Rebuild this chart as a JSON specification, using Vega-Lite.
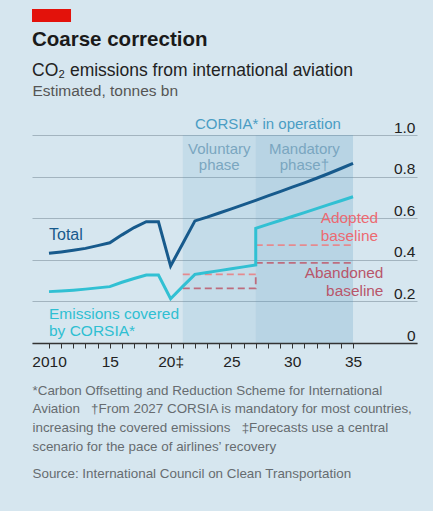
{
  "$schema": "https://vega.github.io/schema/vega-lite/v6.json",
  "width": 385,
  "height": 208,
  "autosize": {"type": "none"},
  "padding": {"left": 32, "right": 16, "top": 135, "bottom": 168},
  "background": "#d6e6ef",
  "config": {"view": {"stroke": null}, "font": "Liberation Sans"},
  "title": {
    "text": "Coarse correction",
    "subtitle": "CO₂ emissions from international aviation",
    "anchor": "start",
    "frame": "group",
    "font": "Liberation Sans",
    "fontSize": 20.5,
    "fontWeight": "bold",
    "color": "#1a1a1a",
    "subtitleFont": "Liberation Sans",
    "subtitleFontSize": 17.5,
    "subtitleColor": "#222222",
    "subtitlePadding": 12,
    "offset": -71
  },
  "datasets": {
    "series": [
      {"series": "Total", "year": 2010, "value": 0.431, "ord": 1},
      {"series": "Total", "year": 2011, "value": 0.438, "ord": 2},
      {"series": "Total", "year": 2012, "value": 0.446, "ord": 3},
      {"series": "Total", "year": 2013, "value": 0.455, "ord": 4},
      {"series": "Total", "year": 2014, "value": 0.468, "ord": 5},
      {"series": "Total", "year": 2015, "value": 0.482, "ord": 6},
      {"series": "Total", "year": 2016, "value": 0.52, "ord": 7},
      {"series": "Total", "year": 2017, "value": 0.555, "ord": 8},
      {"series": "Total", "year": 2018, "value": 0.583, "ord": 9},
      {"series": "Total", "year": 2019, "value": 0.583, "ord": 10},
      {"series": "Total", "year": 2020, "value": 0.37, "ord": 11},
      {"series": "Total", "year": 2021, "value": 0.478, "ord": 12},
      {"series": "Total", "year": 2022, "value": 0.587, "ord": 13},
      {"series": "Total", "year": 2023, "value": 0.605, "ord": 14},
      {"series": "Total", "year": 2024, "value": 0.625, "ord": 15},
      {"series": "Total", "year": 2025, "value": 0.645, "ord": 16},
      {"series": "Total", "year": 2026, "value": 0.665, "ord": 17},
      {"series": "Total", "year": 2027, "value": 0.686, "ord": 18},
      {"series": "Total", "year": 2028, "value": 0.707, "ord": 19},
      {"series": "Total", "year": 2029, "value": 0.728, "ord": 20},
      {"series": "Total", "year": 2030, "value": 0.749, "ord": 21},
      {"series": "Total", "year": 2031, "value": 0.77, "ord": 22},
      {"series": "Total", "year": 2032, "value": 0.792, "ord": 23},
      {"series": "Total", "year": 2033, "value": 0.815, "ord": 24},
      {"series": "Total", "year": 2034, "value": 0.839, "ord": 25},
      {"series": "Total", "year": 2035, "value": 0.864, "ord": 26},
      {"series": "Covered", "year": 2010, "value": 0.247, "ord": 1},
      {"series": "Covered", "year": 2011, "value": 0.25, "ord": 2},
      {"series": "Covered", "year": 2012, "value": 0.254, "ord": 3},
      {"series": "Covered", "year": 2013, "value": 0.259, "ord": 4},
      {"series": "Covered", "year": 2014, "value": 0.265, "ord": 5},
      {"series": "Covered", "year": 2015, "value": 0.271, "ord": 6},
      {"series": "Covered", "year": 2016, "value": 0.292, "ord": 7},
      {"series": "Covered", "year": 2017, "value": 0.31, "ord": 8},
      {"series": "Covered", "year": 2018, "value": 0.327, "ord": 9},
      {"series": "Covered", "year": 2019, "value": 0.327, "ord": 10},
      {"series": "Covered", "year": 2020, "value": 0.213, "ord": 11},
      {"series": "Covered", "year": 2021, "value": 0.272, "ord": 12},
      {"series": "Covered", "year": 2022, "value": 0.33, "ord": 13},
      {"series": "Covered", "year": 2023, "value": 0.339, "ord": 14},
      {"series": "Covered", "year": 2024, "value": 0.348, "ord": 15},
      {"series": "Covered", "year": 2025, "value": 0.357, "ord": 16},
      {"series": "Covered", "year": 2026, "value": 0.366, "ord": 17},
      {"series": "Covered", "year": 2027, "value": 0.375, "ord": 18},
      {"series": "Covered", "year": 2027, "value": 0.551, "ord": 19},
      {"series": "Covered", "year": 2028, "value": 0.57, "ord": 20},
      {"series": "Covered", "year": 2029, "value": 0.589, "ord": 21},
      {"series": "Covered", "year": 2030, "value": 0.608, "ord": 22},
      {"series": "Covered", "year": 2031, "value": 0.627, "ord": 23},
      {"series": "Covered", "year": 2032, "value": 0.646, "ord": 24},
      {"series": "Covered", "year": 2033, "value": 0.665, "ord": 25},
      {"series": "Covered", "year": 2034, "value": 0.684, "ord": 26},
      {"series": "Covered", "year": 2035, "value": 0.703, "ord": 27}
    ],
    "baselines": [
      {"series": "Adopted", "seg": "a1", "year": 2021, "value": 0.33, "ord": 1},
      {"series": "Adopted", "seg": "a1", "year": 2027, "value": 0.33, "ord": 2},
      {"series": "Adopted", "seg": "a2", "year": 2027, "value": 0.471, "ord": 3},
      {"series": "Adopted", "seg": "a2", "year": 2035, "value": 0.471, "ord": 4},
      {"series": "Abandoned", "seg": "b1", "year": 2021, "value": 0.263, "ord": 1},
      {"series": "Abandoned", "seg": "b1", "year": 2027, "value": 0.263, "ord": 2},
      {"series": "Abandoned", "seg": "b1", "year": 2027, "value": 0.33, "ord": 3},
      {"series": "Abandoned", "seg": "b2", "year": 2027, "value": 0.385, "ord": 4},
      {"series": "Abandoned", "seg": "b2", "year": 2035, "value": 0.385, "ord": 5}
    ],
    "phases": [
      {"phase": "Voluntary", "start": 2021, "end": 2027},
      {"phase": "Mandatory", "start": 2027, "end": 2035}
    ],
    "labels": [
      {"group": "op", "text": "CORSIA* in operation", "year": 2028, "value": 1.029},
      {"group": "phase", "text": "Voluntary", "year": 2024, "value": 0.909},
      {"group": "phase", "text": "phase", "year": 2024, "value": 0.832},
      {"group": "phase", "text": "Mandatory", "year": 2031, "value": 0.909},
      {"group": "phase", "text": "phase†", "year": 2031, "value": 0.832},
      {"group": "total", "text": "Total", "year": 2010, "value": 0.495},
      {"group": "covered", "text": "Emissions covered", "year": 2010, "value": 0.115},
      {"group": "covered", "text": "by CORSIA*", "year": 2010, "value": 0.034},
      {"group": "adopted", "text": "Adopted", "year": 2037.06, "value": 0.577},
      {"group": "adopted", "text": "baseline", "year": 2037.06, "value": 0.49},
      {"group": "abandoned", "text": "Abandoned", "year": 2037.5, "value": 0.3125},
      {"group": "abandoned", "text": "baseline", "year": 2037.5, "value": 0.2236}
    ]
  },
  "resolve": {"axis": {"x": "independent", "y": "independent"}},
  "layer": [
    {
      "data": {"name": "phases"},
      "mark": {"type": "rect", "color": "#4f97c0"},
      "encoding": {
        "x": {"field": "start", "type": "quantitative", "scale": {"domain": [2008.602, 2040.26], "nice": false, "zero": false}, "axis": null},
        "x2": {"field": "end"},
        "y": {"datum": 0, "type": "quantitative", "scale": {"domain": [0, 1], "nice": false}, "axis": null},
        "y2": {"datum": 1},
        "opacity": {"field": "phase", "type": "nominal", "scale": {"domain": ["Voluntary", "Mandatory"], "range": [0.13, 0.22]}, "legend": null}
      }
    },
    {
      "data": {"values": [{"tag": "logo"}]},
      "mark": {"type": "rect", "color": "#e3120b"},
      "encoding": {
        "x": {"datum": 2008.602, "type": "quantitative", "axis": null},
        "x2": {"datum": 2011.81},
        "y": {"datum": 1.606, "type": "quantitative", "axis": null},
        "y2": {"datum": 1.543}
      }
    },
    {
      "data": {"name": "baselines"},
      "transform": [{"filter": "datum.series == 'Adopted'"}],
      "mark": {"type": "line", "color": "#e58a8f", "strokeWidth": 1.8, "strokeDash": [7, 4]},
      "encoding": {
        "x": {"field": "year", "type": "quantitative", "axis": null},
        "y": {"field": "value", "type": "quantitative", "axis": null},
        "detail": {"field": "seg"},
        "order": {"field": "ord"}
      }
    },
    {
      "data": {"name": "baselines"},
      "transform": [{"filter": "datum.series == 'Abandoned'"}],
      "mark": {"type": "line", "color": "#bd6c7e", "strokeWidth": 1.8, "strokeDash": [7, 4]},
      "encoding": {
        "x": {"field": "year", "type": "quantitative", "axis": null},
        "y": {"field": "value", "type": "quantitative", "axis": null},
        "detail": {"field": "seg"},
        "order": {"field": "ord"}
      }
    },
    {
      "data": {"name": "series"},
      "mark": {"type": "line", "strokeWidth": 3, "strokeJoin": "miter"},
      "encoding": {
        "x": {
          "field": "year", "type": "quantitative",
          "axis": {
            "values": [2010, 2011, 2012, 2013, 2014, 2015, 2016, 2017, 2018, 2019, 2020, 2021, 2022, 2023, 2024, 2025, 2026, 2027, 2028, 2029, 2030, 2031, 2032, 2033, 2034, 2035],
            "labelExpr": "datum.value % 5 != 0 ? '' : datum.value == 2010 ? '2010' : datum.value == 2020 ? '20‡' : substring(toString(datum.value), 2, 4)",
            "zindex": 1,
            "grid": false,
            "ticks": true,
            "tickSize": 5,
            "tickColor": "#333333",
            "tickWidth": 1,
            "domainColor": "#333333",
            "domainWidth": 1.5,
            "labelFontSize": 15.5,
            "labelColor": "#222222",
            "labelPadding": 6,
            "labelFlush": false,
            "labelOverlap": false,
            "title": [
              "*Carbon Offsetting and Reduction Scheme for International",
              "Aviation\u00a0\u00a0\u00a0†From 2027 CORSIA is mandatory for most countries,",
              "increasing the covered emissions\u00a0\u00a0\u00a0‡Forecasts use a central",
              "scenario for the pace of airlines’ recovery"
            ],
            "titleX": 0,
            "titleY": 51,
            "titleAlign": "left",
            "titleBaseline": "alphabetic",
            "titleFontSize": 13.4,
            "titleFontWeight": "normal",
            "titleColor": "#666c70",
            "titleLineHeight": 18.7
          }
        },
        "y": {
          "field": "value", "type": "quantitative",
          "axis": {
            "orient": "right",
            "values": [0, 0.2, 0.4, 0.6, 0.8, 1.0],
            "labelExpr": "datum.value == 0 ? '0' : format(datum.value, '.1f')",
            "domain": false,
            "ticks": false,
            "tickSize": 0,
            "grid": true,
            "gridColor": "#a3b4bf",
            "gridWidth": 1,
            "labelAlign": "right",
            "labelBaseline": "alphabetic",
            "labelPadding": -2,
            "labelOffset": -3,
            "labelFontSize": 15.5,
            "labelColor": "#222222",
            "title": "Estimated, tonnes bn",
            "titleX": -385,
            "titleY": -40,
            "titleAngle": 0,
            "titleAlign": "left",
            "titleBaseline": "alphabetic",
            "titleFont": "Liberation Sans",
            "titleFontSize": 15.5,
            "titleFontWeight": "normal",
            "titleColor": "#555555"
          }
        },
        "color": {"field": "series", "type": "nominal", "scale": {"domain": ["Total", "Covered"], "range": ["#175a8c", "#31c0d3"]}, "legend": null},
        "order": {"field": "ord"}
      }
    },
    {
      "data": {"name": "labels"},
      "transform": [{"filter": "datum.group == 'op'"}],
      "mark": {"type": "text", "align": "center", "baseline": "alphabetic", "fontSize": 15, "color": "#4a9dc4"},
      "encoding": {
        "x": {"field": "year", "type": "quantitative", "axis": null},
        "y": {
          "field": "value", "type": "quantitative",
          "axis": {
            "orient": "left",
            "labels": false, "ticks": false, "domain": false, "grid": false,
            "title": "Source: International Council on Clean Transportation",
            "titleX": 0,
            "titleY": 342,
            "titleAngle": 0,
            "titleAlign": "left",
            "titleBaseline": "alphabetic",
            "titleFontSize": 13.4,
            "titleFontWeight": "normal",
            "titleColor": "#666c70"
          }
        },
        "text": {"field": "text"}
      }
    },
    {
      "data": {"name": "labels"},
      "transform": [{"filter": "datum.group == 'phase'"}],
      "mark": {"type": "text", "align": "center", "baseline": "alphabetic", "fontSize": 15, "color": "#7aa6c0"},
      "encoding": {
        "x": {"field": "year", "type": "quantitative", "axis": null},
        "y": {"field": "value", "type": "quantitative", "axis": null},
        "text": {"field": "text"}
      }
    },
    {
      "data": {"name": "labels"},
      "transform": [{"filter": "datum.group == 'total'"}],
      "mark": {"type": "text", "align": "left", "baseline": "alphabetic", "fontSize": 16, "color": "#175a8c"},
      "encoding": {
        "x": {"field": "year", "type": "quantitative", "axis": null},
        "y": {"field": "value", "type": "quantitative", "axis": null},
        "text": {"field": "text"}
      }
    },
    {
      "data": {"name": "labels"},
      "transform": [{"filter": "datum.group == 'covered'"}],
      "mark": {"type": "text", "align": "left", "baseline": "alphabetic", "fontSize": 15.5, "color": "#2fbfd2"},
      "encoding": {
        "x": {"field": "year", "type": "quantitative", "axis": null},
        "y": {"field": "value", "type": "quantitative", "axis": null},
        "text": {"field": "text"}
      }
    },
    {
      "data": {"name": "labels"},
      "transform": [{"filter": "datum.group == 'adopted'"}],
      "mark": {"type": "text", "align": "right", "baseline": "alphabetic", "fontSize": 15.4, "color": "#ec6a72"},
      "encoding": {
        "x": {"field": "year", "type": "quantitative", "axis": null},
        "y": {"field": "value", "type": "quantitative", "axis": null},
        "text": {"field": "text"}
      }
    },
    {
      "data": {"name": "labels"},
      "transform": [{"filter": "datum.group == 'abandoned'"}],
      "mark": {"type": "text", "align": "right", "baseline": "alphabetic", "fontSize": 15.4, "color": "#b8566b"},
      "encoding": {
        "x": {"field": "year", "type": "quantitative", "axis": null},
        "y": {"field": "value", "type": "quantitative", "axis": null},
        "text": {"field": "text"}
      }
    }
  ]
}
